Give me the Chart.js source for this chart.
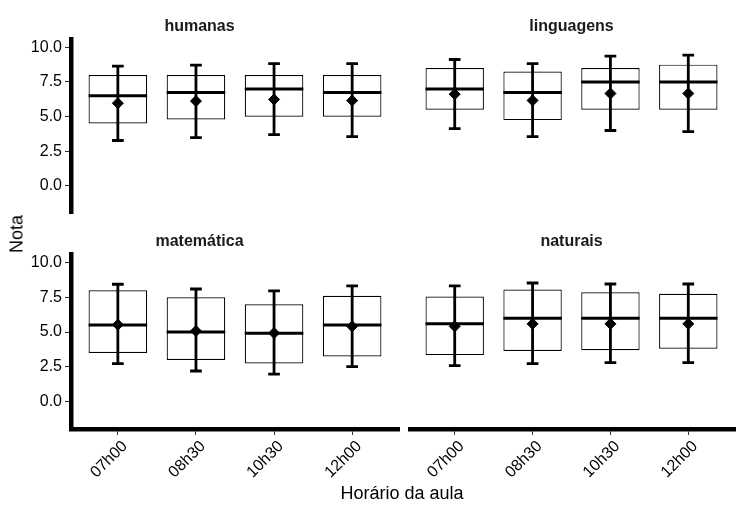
<!DOCTYPE html>
<html>
<head>
<meta charset="utf-8">
<script src="https://cdn.jsdelivr.net/npm/chart.js@4.4.1/dist/chart.umd.min.js"></script>
<style>
  body { margin: 0; background: #fff; }
  #wrap { position: relative; width: 745px; height: 512px; overflow: hidden; font-family: "Liberation Sans", Arial, sans-serif; }
  canvas { position: absolute; }
  .axis-title { position: absolute; font-size: 18px; color: #000; white-space: nowrap; }
</style>
</head>
<body>
<div id="wrap">
  <canvas id="p0" width="402" height="215" style="left:0;top:0"></canvas>
  <canvas id="p1" width="337" height="215" style="left:408px;top:0"></canvas>
  <canvas id="p2" width="402" height="276" style="left:0;top:213px"></canvas>
  <canvas id="p3" width="337" height="276" style="left:408px;top:213px"></canvas>
  <div class="axis-title" id="ytitle" style="left:17px;top:234px;transform:translate(-50%,-50%) rotate(-90deg)">Nota</div>
  <div class="axis-title" id="xtitle" style="left:402px;top:493px;transform:translate(-50%,-50%)">Horário da aula</div>
</div>
<script>
// Values, one row per panel (humanas, linguagens, matemática, naturais)
const disciplinas = ["humanas", "linguagens", "matemática", "naturais"];
const horarios = ["07h00", "08h30", "10h30", "12h00"];
const yTicks = [0, 2.5, 5, 7.5, 10];

const q1 = [
    [4.5, 4.8, 5.0, 5.0],
    [5.5, 4.75, 5.5, 5.5],
    [3.5, 3.0, 2.75, 3.25],
    [3.35, 3.65, 3.7, 3.8]
];
const q3 = [
    [8.0, 8.0, 8.0, 8.0],
    [8.5, 8.25, 8.5, 8.75],
    [8.0, 7.5, 7.0, 7.6],
    [7.55, 8.05, 7.85, 7.75]
];
const mediana = [
    [6.5, 6.75, 7.0, 6.75],
    [7.0, 6.75, 7.5, 7.5],
    [5.5, 5.0, 4.92, 5.5],
    [5.6, 6.0, 6.0, 6.0]
];
const media = [
    [5.97, 6.12, 6.24, 6.16],
    [6.62, 6.17, 6.67, 6.67],
    [5.53, 5.08, 4.93, 5.41],
    [5.41, 5.59, 5.59, 5.59]
];
const erroInf = [
    [3.28, 3.49, 3.71, 3.56],
    [4.14, 3.56, 4.0, 3.92],
    [2.74, 2.21, 1.99, 2.52],
    [2.59, 2.74, 2.81, 2.81]
];
const erroSup = [
    [8.64, 8.71, 8.83, 8.83],
    [9.12, 8.83, 9.36, 9.43],
    [8.43, 8.09, 7.95, 8.31],
    [8.31, 8.52, 8.45, 8.45]
];

const FONT = "'Liberation Sans', Arial, sans-serif";
const BOX_WIDTH = 0.75;
const CAP_WIDTH = 0.15;

Chart.defaults.font.family = FONT;
Chart.defaults.color = "#000";

// draws median line and error bars right after the boxes, before the mean points
const boxExtras = {
    id: "boxExtras",
    afterDatasetDraw(chart, args) {
        if (args.meta.type !== "bar") return;
        const p = chart.options.plugins.boxExtras.panel;
        const { ctx } = chart;
        const x = chart.scales.x, y = chart.scales.y;
        ctx.save();
        ctx.strokeStyle = "#000";
        ctx.lineCap = "butt";
        for (let i = 0; i < horarios.length; i++) {
            const v = i + 1;
            const cx = x.getPixelForValue(v);
            const capL = x.getPixelForValue(v - CAP_WIDTH / 2);
            const capR = x.getPixelForValue(v + CAP_WIDTH / 2);
            const lo = y.getPixelForValue(erroInf[p][i]);
            const hi = y.getPixelForValue(erroSup[p][i]);

            ctx.lineWidth = 2.8;
            ctx.beginPath();
            ctx.moveTo(cx, lo); ctx.lineTo(cx, hi);
            ctx.moveTo(capL, lo); ctx.lineTo(capR, lo);
            ctx.moveTo(capL, hi); ctx.lineTo(capR, hi);
            ctx.stroke();

            const boxL = x.getPixelForValue(v - BOX_WIDTH / 2);
            const boxR = x.getPixelForValue(v + BOX_WIDTH / 2);
            const my = y.getPixelForValue(mediana[p][i]);
            ctx.lineWidth = 3;
            ctx.beginPath();
            ctx.moveTo(boxL, my); ctx.lineTo(boxR, my);
            ctx.stroke();
        }
        ctx.restore();
    }
};

function makePanel(p, showX, showY, titlePad, padRight, padBottom) {
    const ctx = document.getElementById("p" + p).getContext("2d");
    return new Chart(ctx, {
        type: "bar",
        data: {
            datasets: [
                {
                    type: "bar",
                    data: horarios.map((h, i) => ({ x: i + 1, y: [q1[p][i], q3[p][i]] })),
                    backgroundColor: "#fff",
                    borderColor: "#000",
                    borderWidth: 1.2,
                    borderSkipped: false,
                    barPercentage: BOX_WIDTH,
                    categoryPercentage: 1,
                    order: 2
                },
                {
                    type: "line",
                    data: horarios.map((h, i) => ({ x: i + 1, y: media[p][i] })),
                    showLine: false,
                    pointStyle: "rectRot",
                    pointRadius: 5.5,
                    pointBackgroundColor: "#000",
                    pointBorderColor: "#000",
                    pointBorderWidth: 1,
                    order: 1
                }
            ]
        },
        options: {
            responsive: false,
            animation: false,
            events: [],
            layout: { autoPadding: false, padding: { left: 0, right: padRight, top: 0, bottom: padBottom } },
            plugins: {
                legend: { display: false },
                tooltip: { enabled: false },
                title: {
                    display: true,
                    text: disciplinas[p],
                    color: "#1a1a1a",
                    font: { size: 16, weight: "bold", lineHeight: 1.2 },
                    padding: titlePad
                },
                boxExtras: { panel: p }
            },
            scales: {
                x: {
                    type: "linear",
                    display: showX,
                    offset: false,
                    min: 0.4,
                    max: 4.6,
                    afterBuildTicks: (s) => { s.ticks = horarios.map((h, i) => ({ value: i + 1 })); },
                    afterFit: (s) => {
                        s.paddingLeft = 0; s.paddingRight = 0;
                        if (showX) s.height = 60;
                    },
                    grid: { display: true, offset: false, drawOnChartArea: false, drawTicks: true, tickLength: 6, color: "#333", lineWidth: 1 },
                    border: { display: true, width: 4.5, color: "#000" },
                    ticks: {
                        autoSkip: false,
                        minRotation: 45,
                        maxRotation: 45,
                        padding: 2,
                        labelOffset: 7,
                        color: "#000",
                        font: { size: 16 },
                        callback: (v) => horarios[Math.round(v) - 1]
                    }
                },
                y: {
                    type: "linear",
                    display: showY,
                    min: -1.95,
                    max: 10.6,
                    afterBuildTicks: (s) => { s.ticks = yTicks.map(v => ({ value: v })); },
                    afterFit: (s) => {
                        s.paddingTop = 0; s.paddingBottom = 0;
                        if (showY) s.width = 71;
                    },
                    grid: { display: true, drawOnChartArea: false, drawTicks: true, tickLength: 6, color: "#333", lineWidth: 1 },
                    border: { display: true, width: 4.5, color: "#000" },
                    ticks: {
                        padding: 3,
                        color: "#000",
                        font: { size: 16 },
                        callback: (v) => v.toFixed(1)
                    }
                }
            }
        },
        plugins: [boxExtras]
    });
}

makePanel(0, false, true, { top: 16.6, bottom: 3.2 }, 3, 2);
makePanel(1, false, false, { top: 16.6, bottom: 3.2 }, 10, 2);
makePanel(2, true, true, { top: 18.9, bottom: 2.9 }, 3, 0);
makePanel(3, true, false, { top: 18.9, bottom: 2.9 }, 10, 0);
</script>
</body>
</html>
